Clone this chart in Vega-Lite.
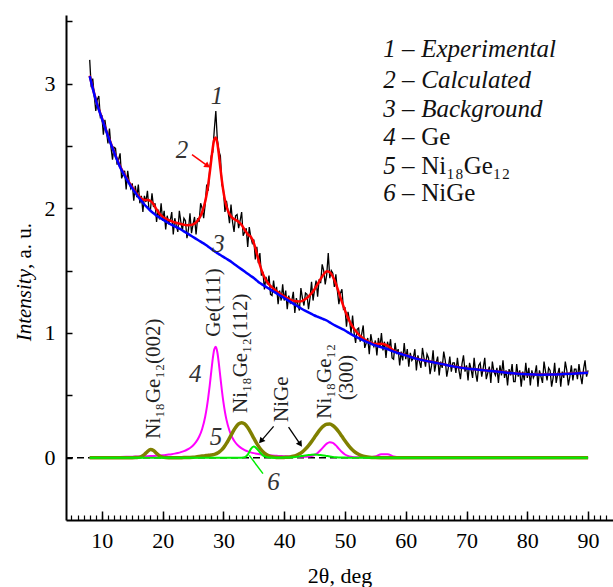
{
"$schema":"https://vega.github.io/schema/vega-lite/v6.json",
"width":547,"height":505,
"autosize":{"type":"none"},
"padding":{"left":66,"top":15,"right":0,"bottom":67},
"background":"white",
"config":{"view":{"stroke":null},"font":"Liberation Serif, Tinos, Times New Roman, DejaVu Serif, serif","axis":{"grid":false}},
"resolve":{"axis":{"x":"independent"}},
"datasets":{
"smooth":[
{"x":8,"bg":3.06,"calc":3.064,"ge":0.0035,"ni":0,"nige":0},
{"x":9,"bg":2.87,"calc":2.874,"ge":0.0039,"ni":0,"nige":0},
{"x":10,"bg":2.72,"calc":2.724,"ge":0.0043,"ni":0,"nige":0},
{"x":11,"bg":2.58,"calc":2.585,"ge":0.0048,"ni":0,"nige":0},
{"x":12,"bg":2.45,"calc":2.455,"ge":0.0054,"ni":0,"nige":0},
{"x":13,"bg":2.33,"calc":2.336,"ge":0.0061,"ni":0,"nige":0},
{"x":14,"bg":2.24,"calc":2.247,"ge":0.0069,"ni":0,"nige":0},
{"x":15,"bg":2.16,"calc":2.168,"ge":0.0079,"ni":0,"nige":0},
{"x":15.5,"bg":2.125,"calc":2.134,"ge":0.0085,"ni":0.0003,"nige":0},
{"x":16,"bg":2.09,"calc":2.101,"ge":0.0092,"ni":0.0021,"nige":0},
{"x":16.5,"bg":2.06,"calc":2.079,"ge":0.01,"ni":0.0088,"nige":0},
{"x":17,"bg":2.03,"calc":2.066,"ge":0.0109,"ni":0.0253,"nige":0},
{"x":17.5,"bg":2.005,"calc":2.066,"ge":0.0118,"ni":0.049,"nige":0},
{"x":18,"bg":1.98,"calc":2.058,"ge":0.013,"ni":0.0645,"nige":0},
{"x":18.5,"bg":1.96,"calc":2.032,"ge":0.0142,"ni":0.0574,"nige":0},
{"x":19,"bg":1.94,"calc":1.99,"ge":0.0157,"ni":0.0345,"nige":0},
{"x":19.5,"bg":1.925,"calc":1.956,"ge":0.0174,"ni":0.014,"nige":0},
{"x":20,"bg":1.91,"calc":1.933,"ge":0.0194,"ni":0.0039,"nige":0},
{"x":20.5,"bg":1.895,"calc":1.917,"ge":0.0218,"ni":0.0007,"nige":0},
{"x":21,"bg":1.88,"calc":1.905,"ge":0.0247,"ni":0,"nige":0},
{"x":21.5,"bg":1.8675,"calc":1.896,"ge":0.0281,"ni":0,"nige":0},
{"x":22,"bg":1.855,"calc":1.887,"ge":0.0323,"ni":0,"nige":0},
{"x":22.5,"bg":1.8425,"calc":1.88,"ge":0.0375,"ni":0.0001,"nige":0},
{"x":23,"bg":1.83,"calc":1.874,"ge":0.044,"ni":0.0002,"nige":0},
{"x":23.5,"bg":1.815,"calc":1.868,"ge":0.0524,"ni":0.0004,"nige":0},
{"x":24,"bg":1.8,"calc":1.864,"ge":0.0633,"ni":0.001,"nige":0},
{"x":24.5,"bg":1.785,"calc":1.865,"ge":0.0778,"ni":0.002,"nige":0},
{"x":25,"bg":1.77,"calc":1.871,"ge":0.0978,"ni":0.0037,"nige":0},
{"x":25.5,"bg":1.755,"calc":1.887,"ge":0.1261,"ni":0.0062,"nige":0},
{"x":26,"bg":1.74,"calc":1.917,"ge":0.1675,"ni":0.0093,"nige":0},
{"x":26.5,"bg":1.725,"calc":1.968,"ge":0.2303,"ni":0.0126,"nige":0},
{"x":27,"bg":1.71,"calc":2.054,"ge":0.3284,"ni":0.0157,"nige":0},
{"x":27.25,"bg":1.701,"calc":2.115,"ge":0.3966,"ni":0.017,"nige":0},
{"x":27.5,"bg":1.6925,"calc":2.192,"ge":0.4806,"ni":0.0184,"nige":0},
{"x":27.75,"bg":1.684,"calc":2.284,"ge":0.5802,"ni":0.0198,"nige":0},
{"x":28,"bg":1.675,"calc":2.386,"ge":0.6899,"ni":0.0215,"nige":0},
{"x":28.25,"bg":1.666,"calc":2.484,"ge":0.7948,"ni":0.0235,"nige":0},
{"x":28.5,"bg":1.6575,"calc":2.553,"ge":0.8694,"ni":0.0265,"nige":0},
{"x":28.75,"bg":1.649,"calc":2.568,"ge":0.8887,"ni":0.0306,"nige":0},
{"x":29,"bg":1.64,"calc":2.521,"ge":0.845,"ni":0.0361,"nige":0},
{"x":29.25,"bg":1.6325,"calc":2.431,"ge":0.7549,"ni":0.0434,"nige":0},
{"x":29.5,"bg":1.625,"calc":2.323,"ge":0.6455,"ni":0.0529,"nige":0},
{"x":29.75,"bg":1.6175,"calc":2.221,"ge":0.5386,"ni":0.0648,"nige":0},
{"x":30,"bg":1.61,"calc":2.134,"ge":0.445,"ni":0.0789,"nige":0},
{"x":30.25,"bg":1.6025,"calc":2.066,"ge":0.3675,"ni":0.0955,"nige":0},
{"x":30.5,"bg":1.595,"calc":2.014,"ge":0.3051,"ni":0.1143,"nige":0},
{"x":31,"bg":1.58,"calc":1.953,"ge":0.2155,"ni":0.1571,"nige":0},
{"x":31.5,"bg":1.5625,"calc":1.922,"ge":0.1578,"ni":0.2016,"nige":0},
{"x":32,"bg":1.545,"calc":1.907,"ge":0.1196,"ni":0.2419,"nige":0},
{"x":32.5,"bg":1.5275,"calc":1.891,"ge":0.0932,"ni":0.27,"nige":0},
{"x":33,"bg":1.51,"calc":1.865,"ge":0.0745,"ni":0.28,"nige":0.0002},
{"x":33.5,"bg":1.4925,"calc":1.827,"ge":0.0608,"ni":0.27,"nige":0.0035},
{"x":34,"bg":1.475,"calc":1.791,"ge":0.0505,"ni":0.2419,"nige":0.0236},
{"x":34.5,"bg":1.4575,"calc":1.771,"ge":0.0426,"ni":0.2016,"nige":0.0691},
{"x":35,"bg":1.44,"calc":1.722,"ge":0.0363,"ni":0.1561,"nige":0.0894},
{"x":35.5,"bg":1.42,"calc":1.636,"ge":0.0314,"ni":0.1123,"nige":0.0721},
{"x":36,"bg":1.4,"calc":1.545,"ge":0.0274,"ni":0.0752,"nige":0.0426},
{"x":36.5,"bg":1.385,"calc":1.474,"ge":0.0241,"ni":0.0467,"nige":0.0185},
{"x":37,"bg":1.37,"calc":1.424,"ge":0.0213,"ni":0.027,"nige":0.0059},
{"x":37.5,"bg":1.355,"calc":1.39,"ge":0.019,"ni":0.0145,"nige":0.0014},
{"x":38,"bg":1.34,"calc":1.365,"ge":0.0171,"ni":0.0073,"nige":0.0002},
{"x":38.5,"bg":1.325,"calc":1.344,"ge":0.0154,"ni":0.0034,"nige":0},
{"x":39,"bg":1.31,"calc":1.326,"ge":0.014,"ni":0.0015,"nige":0.0001},
{"x":39.5,"bg":1.295,"calc":1.309,"ge":0.0127,"ni":0.0006,"nige":0.0002},
{"x":40,"bg":1.28,"calc":1.294,"ge":0.0116,"ni":0.0019,"nige":0.0005},
{"x":40.5,"bg":1.265,"calc":1.28,"ge":0.0107,"ni":0.0034,"nige":0.0011},
{"x":41,"bg":1.25,"calc":1.268,"ge":0.0098,"ni":0.0063,"nige":0.0021},
{"x":41.5,"bg":1.235,"calc":1.259,"ge":0.0091,"ni":0.0112,"nige":0.0038},
{"x":42,"bg":1.22,"calc":1.254,"ge":0.0084,"ni":0.019,"nige":0.0062},
{"x":42.5,"bg":1.205,"calc":1.253,"ge":0.0079,"ni":0.0306,"nige":0.0095},
{"x":43,"bg":1.19,"calc":1.258,"ge":0.0075,"ni":0.047,"nige":0.0135},
{"x":43.5,"bg":1.1775,"calc":1.272,"ge":0.0076,"ni":0.069,"nige":0.0177},
{"x":44,"bg":1.165,"calc":1.292,"ge":0.009,"ni":0.0965,"nige":0.0214},
{"x":44.5,"bg":1.1525,"calc":1.318,"ge":0.013,"ni":0.1287,"nige":0.024},
{"x":45,"bg":1.14,"calc":1.351,"ge":0.0218,"ni":0.1638,"nige":0.025},
{"x":45.5,"bg":1.13,"calc":1.391,"ge":0.0378,"ni":0.1988,"nige":0.024},
{"x":46,"bg":1.12,"calc":1.433,"ge":0.0613,"ni":0.2301,"nige":0.0214},
{"x":46.5,"bg":1.11,"calc":1.471,"ge":0.0886,"ni":0.2542,"nige":0.0177},
{"x":47,"bg":1.1,"calc":1.494,"ge":0.1124,"ni":0.2677,"nige":0.0135},
{"x":47.5,"bg":1.085,"calc":1.487,"ge":0.1238,"ni":0.269,"nige":0.0095},
{"x":48,"bg":1.07,"calc":1.453,"ge":0.1185,"ni":0.2578,"nige":0.0062},
{"x":48.5,"bg":1.0575,"calc":1.395,"ge":0.0982,"ni":0.2357,"nige":0.0038},
{"x":49,"bg":1.045,"calc":1.323,"ge":0.0708,"ni":0.2055,"nige":0.0021},
{"x":49.5,"bg":1.0325,"calc":1.249,"ge":0.0447,"ni":0.1709,"nige":0.0011},
{"x":50,"bg":1.02,"calc":1.181,"ge":0.0251,"ni":0.1356,"nige":0.0005},
{"x":50.5,"bg":1.005,"calc":1.121,"ge":0.0132,"ni":0.1026,"nige":0.0002},
{"x":51,"bg":0.99,"calc":1.071,"ge":0.0069,"ni":0.074,"nige":0},
{"x":51.5,"bg":0.9775,"calc":1.033,"ge":0.0042,"ni":0.051,"nige":0},
{"x":52,"bg":0.965,"calc":1.002,"ge":0.0032,"ni":0.0335,"nige":0},
{"x":52.5,"bg":0.9525,"calc":0.976,"ge":0.0028,"ni":0.021,"nige":0},
{"x":53,"bg":0.94,"calc":0.955,"ge":0.0025,"ni":0.0125,"nige":0},
{"x":54,"bg":0.92,"calc":0.927,"ge":0.0029,"ni":0.0039,"nige":0},
{"x":55,"bg":0.9,"calc":0.911,"ge":0.0097,"ni":0.001,"nige":0},
{"x":56,"bg":0.885,"calc":0.913,"ge":0.0277,"ni":0.0002,"nige":0},
{"x":57,"bg":0.87,"calc":0.898,"ge":0.0276,"ni":0,"nige":0},
{"x":58,"bg":0.85,"calc":0.859,"ge":0.0092,"ni":0,"nige":0},
{"x":59,"bg":0.835,"calc":0.837,"ge":0.0022,"ni":0,"nige":0},
{"x":60,"bg":0.82,"calc":0.822,"ge":0.0015,"ni":0,"nige":0},
{"x":62,"bg":0.79,"calc":0.791,"ge":0.0014,"ni":0,"nige":0},
{"x":64,"bg":0.77,"calc":0.771,"ge":0.0013,"ni":0,"nige":0},
{"x":66,"bg":0.75,"calc":0.751,"ge":0.0011,"ni":0,"nige":0},
{"x":68,"bg":0.73,"calc":0.731,"ge":0.001,"ni":0,"nige":0},
{"x":70,"bg":0.715,"calc":0.716,"ge":0.001,"ni":0,"nige":0},
{"x":72,"bg":0.705,"calc":0.706,"ge":0.0009,"ni":0,"nige":0},
{"x":74,"bg":0.695,"calc":0.696,"ge":0.0008,"ni":0,"nige":0},
{"x":76,"bg":0.685,"calc":0.686,"ge":0.0007,"ni":0,"nige":0},
{"x":78,"bg":0.675,"calc":0.676,"ge":0.0007,"ni":0,"nige":0},
{"x":80,"bg":0.668,"calc":0.669,"ge":0.0006,"ni":0,"nige":0},
{"x":82,"bg":0.665,"calc":0.666,"ge":0.0006,"ni":0,"nige":0},
{"x":84,"bg":0.666,"calc":0.667,"ge":0.0005,"ni":0,"nige":0},
{"x":86,"bg":0.67,"calc":0.671,"ge":0.0005,"ni":0,"nige":0},
{"x":88,"bg":0.675,"calc":0.676,"ge":0.0005,"ni":0,"nige":0},
{"x":90,"bg":0.68,"calc":0.681,"ge":0.0005,"ni":0,"nige":0}
],
"exp":[
{"x":8,"y":3.19},{"x":8.25,"y":2.97},{"x":8.5,"y":3.04},{"x":8.75,"y":2.9},{"x":9,"y":2.78},{"x":9.25,"y":2.87},{"x":9.5,"y":2.9},{"x":9.75,"y":2.73},{"x":10,"y":2.74},{"x":10.25,"y":2.59},{"x":10.5,"y":2.71},{"x":10.75,"y":2.62},{"x":11,"y":2.52},{"x":11.25,"y":2.64},{"x":11.5,"y":2.49},{"x":11.75,"y":2.39},{"x":12,"y":2.49},{"x":12.25,"y":2.48},{"x":12.5,"y":2.35},{"x":12.75,"y":2.39},{"x":13,"y":2.44},{"x":13.25,"y":2.24},{"x":13.5,"y":2.27},{"x":13.75,"y":2.3},{"x":14,"y":2.15},{"x":14.25,"y":2.3},{"x":14.5,"y":2.21},{"x":14.75,"y":2.16},{"x":15,"y":2.2},{"x":15.25,"y":2.06},{"x":15.5,"y":2.18},{"x":15.75,"y":2.09},{"x":16,"y":2.19},{"x":16.25,"y":2.04},{"x":16.5,"y":2.1},{"x":16.75,"y":1.97},{"x":17,"y":2.1},{"x":17.25,"y":2.05},{"x":17.5,"y":2.14},{"x":17.75,"y":1.99},
{"x":18,"y":1.99},{"x":18.25,"y":2.12},{"x":18.5,"y":2.01},{"x":18.75,"y":2.04},{"x":19,"y":1.89},{"x":19.25,"y":1.99},{"x":19.5,"y":1.91},{"x":19.75,"y":2.04},{"x":20,"y":1.9},{"x":20.25,"y":1.98},{"x":20.5,"y":1.83},{"x":20.75,"y":1.94},{"x":21,"y":1.88},{"x":21.25,"y":1.9},{"x":21.5,"y":1.97},{"x":21.75,"y":1.79},{"x":22,"y":1.92},{"x":22.25,"y":1.86},{"x":22.5,"y":1.81},{"x":22.75,"y":1.98},{"x":23,"y":1.89},{"x":23.25,"y":1.82},{"x":23.5,"y":1.92},{"x":23.75,"y":1.9},{"x":24,"y":1.76},{"x":24.25,"y":1.83},{"x":24.5,"y":1.96},{"x":24.75,"y":1.8},{"x":25,"y":1.87},{"x":25.25,"y":1.93},{"x":25.5,"y":1.79},{"x":25.75,"y":1.92},{"x":26,"y":1.89},{"x":26.25,"y":2.04},{"x":26.5,"y":2},{"x":26.75,"y":1.92},{"x":27,"y":2.03},{"x":27.25,"y":2.19},{"x":27.5,"y":2.14},{"x":27.75,"y":2.31},
{"x":28,"y":2.42},{"x":28.25,"y":2.45},{"x":28.5,"y":2.63},{"x":28.75,"y":2.78},{"x":29,"y":2.55},{"x":29.25,"y":2.46},{"x":29.5,"y":2.42},{"x":29.75,"y":2.19},{"x":30,"y":2.15},{"x":30.25,"y":1.97},{"x":30.5,"y":2.06},{"x":30.75,"y":1.98},{"x":31,"y":1.88},{"x":31.25,"y":2.03},{"x":31.5,"y":1.89},{"x":31.75,"y":1.81},{"x":32,"y":1.94},{"x":32.25,"y":1.95},{"x":32.5,"y":1.84},{"x":32.75,"y":1.9},{"x":33,"y":1.97},{"x":33.25,"y":1.78},{"x":33.5,"y":1.81},{"x":33.75,"y":1.84},{"x":34,"y":1.69},{"x":34.25,"y":1.85},{"x":34.5,"y":1.77},{"x":34.75,"y":1.72},{"x":35,"y":1.75},{"x":35.25,"y":1.59},{"x":35.5,"y":1.69},{"x":35.75,"y":1.56},{"x":36,"y":1.64},{"x":36.25,"y":1.46},{"x":36.5,"y":1.49},{"x":36.75,"y":1.35},{"x":37,"y":1.45},{"x":37.25,"y":1.39},{"x":37.5,"y":1.46},{"x":37.75,"y":1.31},
{"x":38,"y":1.3},{"x":38.25,"y":1.42},{"x":38.5,"y":1.32},{"x":38.75,"y":1.37},{"x":39,"y":1.23},{"x":39.25,"y":1.34},{"x":39.5,"y":1.26},{"x":39.75,"y":1.39},{"x":40,"y":1.26},{"x":40.25,"y":1.34},{"x":40.5,"y":1.19},{"x":40.75,"y":1.3},{"x":41,"y":1.24},{"x":41.25,"y":1.26},{"x":41.5,"y":1.33},{"x":41.75,"y":1.16},{"x":42,"y":1.28},{"x":42.25,"y":1.23},{"x":42.5,"y":1.18},{"x":42.75,"y":1.36},{"x":43,"y":1.28},{"x":43.25,"y":1.22},{"x":43.5,"y":1.32},{"x":43.75,"y":1.31},{"x":44,"y":1.19},{"x":44.25,"y":1.28},{"x":44.5,"y":1.41},{"x":44.75,"y":1.26},{"x":45,"y":1.35},{"x":45.25,"y":1.42},{"x":45.5,"y":1.29},{"x":45.75,"y":1.43},{"x":46,"y":1.4},{"x":46.25,"y":1.55},{"x":46.5,"y":1.5},{"x":46.75,"y":1.39},{"x":47,"y":1.47},{"x":47.25,"y":1.64},{"x":47.5,"y":1.44},{"x":47.75,"y":1.5},
{"x":48,"y":1.48},{"x":48.25,"y":1.37},{"x":48.5,"y":1.47},{"x":48.75,"y":1.34},{"x":49,"y":1.23},{"x":49.25,"y":1.32},{"x":49.5,"y":1.35},{"x":49.75,"y":1.19},{"x":50,"y":1.2},{"x":50.25,"y":1.05},{"x":50.5,"y":1.17},{"x":50.75,"y":1.1},{"x":51,"y":1},{"x":51.25,"y":1.14},{"x":51.5,"y":1},{"x":51.75,"y":0.92},{"x":52,"y":1.03},{"x":52.25,"y":1.04},{"x":52.5,"y":0.93},{"x":52.75,"y":0.99},{"x":53,"y":1.06},{"x":53.25,"y":0.88},{"x":53.5,"y":0.92},{"x":53.75,"y":0.96},{"x":54,"y":0.83},{"x":54.25,"y":0.99},{"x":54.5,"y":0.92},{"x":54.75,"y":0.89},{"x":55,"y":0.94},{"x":55.25,"y":0.82},{"x":55.5,"y":0.96},{"x":55.75,"y":0.88},{"x":56,"y":1},{"x":56.25,"y":0.86},{"x":56.5,"y":0.93},{"x":56.75,"y":0.8},{"x":57,"y":0.93},{"x":57.25,"y":0.87},{"x":57.5,"y":0.95},{"x":57.75,"y":0.8},
{"x":58,"y":0.79},{"x":58.25,"y":0.92},{"x":58.5,"y":0.83},{"x":58.75,"y":0.87},{"x":59,"y":0.74},{"x":59.25,"y":0.85},{"x":59.5,"y":0.78},{"x":59.75,"y":0.92},{"x":60,"y":0.79},{"x":60.25,"y":0.87},{"x":60.5,"y":0.73},{"x":60.75,"y":0.84},{"x":61,"y":0.78},{"x":61.25,"y":0.8},{"x":61.5,"y":0.87},{"x":61.75,"y":0.7},{"x":62,"y":0.82},{"x":62.25,"y":0.77},{"x":62.5,"y":0.72},{"x":62.75,"y":0.88},{"x":63,"y":0.8},{"x":63.25,"y":0.73},{"x":63.5,"y":0.83},{"x":63.75,"y":0.8},{"x":64,"y":0.67},{"x":64.25,"y":0.74},{"x":64.5,"y":0.86},{"x":64.75,"y":0.69},{"x":65,"y":0.76},{"x":65.25,"y":0.81},{"x":65.5,"y":0.66},{"x":65.75,"y":0.77},{"x":66,"y":0.72},{"x":66.25,"y":0.85},{"x":66.5,"y":0.78},{"x":66.75,"y":0.65},{"x":67,"y":0.72},{"x":67.25,"y":0.81},{"x":67.5,"y":0.69},{"x":67.75,"y":0.76},
{"x":68,"y":0.76},{"x":68.25,"y":0.68},{"x":68.5,"y":0.8},{"x":68.75,"y":0.7},{"x":69,"y":0.63},{"x":69.25,"y":0.75},{"x":69.5,"y":0.82},{"x":69.75,"y":0.69},{"x":70,"y":0.74},{"x":70.25,"y":0.62},{"x":70.5,"y":0.76},{"x":70.75,"y":0.71},{"x":71,"y":0.64},{"x":71.25,"y":0.8},{"x":71.5,"y":0.68},{"x":71.75,"y":0.61},{"x":72,"y":0.74},{"x":72.25,"y":0.76},{"x":72.5,"y":0.65},{"x":72.75,"y":0.72},{"x":73,"y":0.8},{"x":73.25,"y":0.63},{"x":73.5,"y":0.68},{"x":73.75,"y":0.73},{"x":74,"y":0.6},{"x":74.25,"y":0.77},{"x":74.5,"y":0.69},{"x":74.75,"y":0.66},{"x":75,"y":0.72},{"x":75.25,"y":0.6},{"x":75.5,"y":0.74},{"x":75.75,"y":0.66},{"x":76,"y":0.78},{"x":76.25,"y":0.64},{"x":76.5,"y":0.7},{"x":76.75,"y":0.58},{"x":77,"y":0.71},{"x":77.25,"y":0.66},{"x":77.5,"y":0.75},{"x":77.75,"y":0.61},
{"x":78,"y":0.61},{"x":78.25,"y":0.75},{"x":78.5,"y":0.65},{"x":78.75,"y":0.7},{"x":79,"y":0.57},{"x":79.25,"y":0.69},{"x":79.5,"y":0.62},{"x":79.75,"y":0.76},{"x":80,"y":0.64},{"x":80.25,"y":0.72},{"x":80.5,"y":0.58},{"x":80.75,"y":0.7},{"x":81,"y":0.64},{"x":81.25,"y":0.67},{"x":81.5,"y":0.74},{"x":81.75,"y":0.57},{"x":82,"y":0.7},{"x":82.25,"y":0.65},{"x":82.5,"y":0.6},{"x":82.75,"y":0.77},{"x":83,"y":0.69},{"x":83.25,"y":0.62},{"x":83.5,"y":0.72},{"x":83.75,"y":0.7},{"x":84,"y":0.57},{"x":84.25,"y":0.64},{"x":84.5,"y":0.76},{"x":84.75,"y":0.6},{"x":85,"y":0.67},{"x":85.25,"y":0.72},{"x":85.5,"y":0.57},{"x":85.75,"y":0.69},{"x":86,"y":0.64},{"x":86.25,"y":0.77},{"x":86.5,"y":0.7},{"x":86.75,"y":0.58},{"x":87,"y":0.65},{"x":87.25,"y":0.74},{"x":87.5,"y":0.62},{"x":87.75,"y":0.71},
{"x":88,"y":0.71},{"x":88.25,"y":0.63},{"x":88.5,"y":0.75},{"x":88.75,"y":0.66},{"x":89,"y":0.59},{"x":89.25,"y":0.71},{"x":89.5,"y":0.78},{"x":89.75,"y":0.65},{"x":90,"y":0.7}
],
"zero":[{"x":4.1,"x2":90,"y":0}],
"arrowRed":[{"x":24.83,"y":2.43,"x2":27.4,"y2":2.34}],
"arrowBlackL":[{"x":38.26,"y":0.251,"x2":36.18,"y2":0.133}],
"arrowBlackR":[{"x":40.72,"y":0.245,"x2":42.65,"y2":0.107}],
"lineGreen":[{"x":36.51,"y":-0.128,"x2":34.26,"y2":0.018}],
"nums":[{"t":"1","x":28.95,"y":2.9},{"t":"2","x":23.2,"y":2.464},{"t":"3","x":29.2,"y":1.716},{"t":"4","x":25.37,"y":0.674},{"t":"5","x":28.8,"y":0.165},{"t":"6","x":38.26,"y":-0.196}],
"peaks":[{"t":"Ni₁₈Ge₁₂(002)","x":18.5,"y":0.152},{"t":"Ge(111)","x":28.5,"y":0.97},{"t":"Ni₁₈Ge₁₂(112)","x":32.9,"y":0.358},{"t":"NiGe","x":39.64,"y":0.286},{"t":"Ni₁₈Ge₁₂","x":46.76,"y":0.313},{"t":"(300)","x":50.4,"y":0.46}],
"legIt":[{"t":"Experimental","y":3.274},{"t":"Calculated","y":3.026},{"t":"Background","y":2.793}],
"legRm":[{"t":"Ge","y":2.569},{"t":"Ni₁₈Ge₁₂","y":2.336},{"t":"NiGe","y":2.12}],
"legNum":[{"n":"1 –","y":3.274},{"n":"2 –","y":3.026},{"n":"3 –","y":2.793},{"n":"4 –","y":2.569},{"n":"5 –","y":2.336},{"n":"6 –","y":2.12}],
"ytitle":[{"t":"Intensity","x":-2.6,"y":0.933}],
"ytitle2":[{"t":", a. u.","x":-2.6,"y":1.513}]
},
"layer":[
{"data":{"name":"zero"},"mark":{"type":"rule","color":"black","strokeWidth":1.5,"strokeDash":[7,4]},
 "encoding":{
  "x":{"field":"x","type":"quantitative","scale":{"domain":[4.1,94.1],"nice":false,"zero":false},
   "axis":{"orient":"bottom","values":[5,6,7,8,9,10,11,12,13,14,15,16,17,18,19,20,21,22,23,24,25,26,27,28,29,30,31,32,33,34,35,36,37,38,39,40,41,42,43,44,45,46,47,48,49,50,51,52,53,54,55,56,57,58,59,60,61,62,63,64,65,66,67,68,69,70,71,72,73,74,75,76,77,78,79,80,81,82,83,84,85,86,87,88,89,90,91,92,93],"tickSize":-5,"tickWidth":1.2,"tickColor":"black","labels":false,"domain":false,"title":null,"grid":false}},
  "x2":{"field":"x2"},
  "y":{"field":"y","type":"quantitative","scale":{"domain":[-0.5,3.55],"nice":false,"zero":false},"title":null}}},
{"data":{"name":"smooth"},"mark":{"type":"line","color":"#ff00ff","strokeWidth":2,"interpolate":"monotone"},
 "encoding":{"x":{"field":"x","type":"quantitative","scale":{"domain":[4.1,94.1],"nice":false,"zero":false},"axis":null},
  "y":{"field":"ge","type":"quantitative","scale":{"domain":[-0.5,3.55],"nice":false,"zero":false},"title":null}}},
{"data":{"name":"smooth"},"mark":{"type":"line","color":"#808000","strokeWidth":3.5,"interpolate":"monotone"},
 "encoding":{"x":{"field":"x","type":"quantitative","scale":{"domain":[4.1,94.1],"nice":false,"zero":false},"axis":null},
  "y":{"field":"ni","type":"quantitative","scale":{"domain":[-0.5,3.55],"nice":false,"zero":false},"title":null}}},
{"data":{"name":"smooth"},"mark":{"type":"line","color":"#00ee00","strokeWidth":2,"interpolate":"monotone"},
 "encoding":{"x":{"field":"x","type":"quantitative","scale":{"domain":[4.1,94.1],"nice":false,"zero":false},"axis":null},
  "y":{"field":"nige","type":"quantitative","scale":{"domain":[-0.5,3.55],"nice":false,"zero":false},"title":null}}},
{"data":{"name":"exp"},"mark":{"type":"line","color":"black","strokeWidth":1.3},
 "encoding":{"x":{"field":"x","type":"quantitative","scale":{"domain":[4.1,94.1],"nice":false,"zero":false},
   "axis":{"orient":"bottom","values":[10,20,30,40,50,60,70,80,90],"labelExpr":"'' + datum.value","tickSize":-9,"tickWidth":1.5,"tickColor":"black","domain":true,"domainColor":"black","domainWidth":2,"labelFontSize":22,"labelColor":"black","labelPadding":19,"labelFlush":false,"title":"2θ, deg","titleFontSize":22,"titleFontWeight":"normal","titleColor":"black","titleY":55,"titleBaseline":"middle","grid":false}},
  "y":{"field":"y","type":"quantitative","scale":{"domain":[-0.5,3.55],"nice":false,"zero":false},"title":null,
   "axis":{"values":[0,0.5,1,1.5,2,2.5,3,3.5],"labelExpr":"datum.value % 1 === 0 ? '' + datum.value : ''","tickSize":-6,"tickWidth":1.5,"tickColor":"black","domainColor":"black","domainWidth":2,"labelFontSize":22,"labelColor":"black","labelPadding":17,"grid":false,"title":null}}}},
{"data":{"name":"smooth"},"mark":{"type":"line","color":"#ff0000","strokeWidth":2.5,"interpolate":"monotone"},
 "encoding":{"x":{"field":"x","type":"quantitative","scale":{"domain":[4.1,94.1],"nice":false,"zero":false},"axis":null},
  "y":{"field":"calc","type":"quantitative","scale":{"domain":[-0.5,3.55],"nice":false,"zero":false},"title":null}}},
{"data":{"name":"smooth"},"mark":{"type":"line","color":"#0000ff","strokeWidth":2.5,"interpolate":"monotone"},
 "encoding":{"x":{"field":"x","type":"quantitative","scale":{"domain":[4.1,94.1],"nice":false,"zero":false},"axis":null},
  "y":{"field":"bg","type":"quantitative","scale":{"domain":[-0.5,3.55],"nice":false,"zero":false},"title":null}}},
{"data":{"name":"arrowRed"},"mark":{"type":"rule","color":"#ff0000","strokeWidth":1.5},
 "encoding":{"x":{"field":"x","type":"quantitative","scale":{"domain":[4.1,94.1],"nice":false,"zero":false},"axis":null},"x2":{"field":"x2"},
  "y":{"field":"y","type":"quantitative","scale":{"domain":[-0.5,3.55],"nice":false,"zero":false},"title":null},"y2":{"field":"y2"}}},
{"data":{"name":"arrowRed"},"mark":{"type":"point","shape":"triangle-right","filled":true,"size":45,"color":"#ff0000","opacity":1,"angle":36},
 "encoding":{"x":{"field":"x2","type":"quantitative","scale":{"domain":[4.1,94.1],"nice":false,"zero":false},"axis":null},
  "y":{"field":"y2","type":"quantitative","scale":{"domain":[-0.5,3.55],"nice":false,"zero":false},"title":null}}},
{"data":{"name":"arrowBlackL"},"mark":{"type":"rule","color":"black","strokeWidth":1.3},
 "encoding":{"x":{"field":"x","type":"quantitative","scale":{"domain":[4.1,94.1],"nice":false,"zero":false},"axis":null},"x2":{"field":"x2"},
  "y":{"field":"y","type":"quantitative","scale":{"domain":[-0.5,3.55],"nice":false,"zero":false},"title":null},"y2":{"field":"y2"}}},
{"data":{"name":"arrowBlackL"},"mark":{"type":"point","shape":"triangle-right","filled":true,"size":45,"color":"black","opacity":1,"angle":131},
 "encoding":{"x":{"field":"x2","type":"quantitative","scale":{"domain":[4.1,94.1],"nice":false,"zero":false},"axis":null},
  "y":{"field":"y2","type":"quantitative","scale":{"domain":[-0.5,3.55],"nice":false,"zero":false},"title":null}}},
{"data":{"name":"arrowBlackR"},"mark":{"type":"rule","color":"black","strokeWidth":1.3},
 "encoding":{"x":{"field":"x","type":"quantitative","scale":{"domain":[4.1,94.1],"nice":false,"zero":false},"axis":null},"x2":{"field":"x2"},
  "y":{"field":"y","type":"quantitative","scale":{"domain":[-0.5,3.55],"nice":false,"zero":false},"title":null},"y2":{"field":"y2"}}},
{"data":{"name":"arrowBlackR"},"mark":{"type":"point","shape":"triangle-right","filled":true,"size":45,"color":"black","opacity":1,"angle":56},
 "encoding":{"x":{"field":"x2","type":"quantitative","scale":{"domain":[4.1,94.1],"nice":false,"zero":false},"axis":null},
  "y":{"field":"y2","type":"quantitative","scale":{"domain":[-0.5,3.55],"nice":false,"zero":false},"title":null}}},
{"data":{"name":"lineGreen"},"mark":{"type":"rule","color":"#00ee00","strokeWidth":1.5},
 "encoding":{"x":{"field":"x","type":"quantitative","scale":{"domain":[4.1,94.1],"nice":false,"zero":false},"axis":null},"x2":{"field":"x2"},
  "y":{"field":"y","type":"quantitative","scale":{"domain":[-0.5,3.55],"nice":false,"zero":false},"title":null},"y2":{"field":"y2"}}},
{"data":{"name":"nums"},"mark":{"type":"text","fontSize":25,"fontStyle":"italic","color":"#333333","align":"center","baseline":"middle"},
 "encoding":{"x":{"field":"x","type":"quantitative","scale":{"domain":[4.1,94.1],"nice":false,"zero":false},"axis":null},
  "y":{"field":"y","type":"quantitative","scale":{"domain":[-0.5,3.55],"nice":false,"zero":false},"title":null},"text":{"field":"t"}}},
{"data":{"name":"peaks"},"mark":{"type":"text","fontSize":21,"color":"#222222","align":"left","baseline":"middle","angle":270},
 "encoding":{"x":{"field":"x","type":"quantitative","scale":{"domain":[4.1,94.1],"nice":false,"zero":false},"axis":null},
  "y":{"field":"y","type":"quantitative","scale":{"domain":[-0.5,3.55],"nice":false,"zero":false},"title":null},"text":{"field":"t"}}},
{"data":{"name":"legIt"},"mark":{"type":"text","fontSize":25,"fontStyle":"italic","color":"#111111","align":"left","baseline":"middle"},
 "encoding":{"x":{"datum":62.55,"type":"quantitative","scale":{"domain":[4.1,94.1],"nice":false,"zero":false},"axis":null},
  "y":{"field":"y","type":"quantitative","scale":{"domain":[-0.5,3.55],"nice":false,"zero":false},"title":null},"text":{"field":"t"}}},
{"data":{"name":"legRm"},"mark":{"type":"text","fontSize":25,"color":"#111111","align":"left","baseline":"middle"},
 "encoding":{"x":{"datum":62.55,"type":"quantitative","scale":{"domain":[4.1,94.1],"nice":false,"zero":false},"axis":null},
  "y":{"field":"y","type":"quantitative","scale":{"domain":[-0.5,3.55],"nice":false,"zero":false},"title":null},"text":{"field":"t"}}},
{"data":{"name":"legNum"},"mark":{"type":"text","fontSize":25,"fontStyle":"italic","color":"#111111","align":"left","baseline":"middle"},
 "encoding":{"x":{"datum":56.3,"type":"quantitative","scale":{"domain":[4.1,94.1],"nice":false,"zero":false},"axis":null},
  "y":{"field":"y","type":"quantitative","scale":{"domain":[-0.5,3.55],"nice":false,"zero":false},"title":null},"text":{"field":"n"}}},
{"data":{"name":"ytitle"},"mark":{"type":"text","fontSize":21,"fontStyle":"italic","color":"black","align":"left","baseline":"middle","angle":270},
 "encoding":{"x":{"field":"x","type":"quantitative","scale":{"domain":[4.1,94.1],"nice":false,"zero":false},"axis":null},
  "y":{"field":"y","type":"quantitative","scale":{"domain":[-0.5,3.55],"nice":false,"zero":false},"title":null},"text":{"field":"t"}}},
{"data":{"name":"ytitle2"},"mark":{"type":"text","fontSize":21,"color":"black","align":"left","baseline":"middle","angle":270},
 "encoding":{"x":{"field":"x","type":"quantitative","scale":{"domain":[4.1,94.1],"nice":false,"zero":false},"axis":null},
  "y":{"field":"y","type":"quantitative","scale":{"domain":[-0.5,3.55],"nice":false,"zero":false},"title":null},"text":{"field":"t"}}}
]
}
